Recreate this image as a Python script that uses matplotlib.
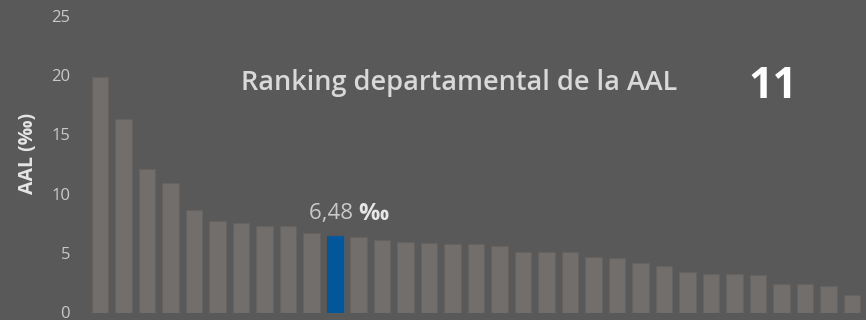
import matplotlib
matplotlib.use("Agg")
import matplotlib.pyplot as plt

# --- Datos: AAL por departamento (‰), ordenados de mayor a menor ---
aal_values = [19.8, 16.3, 12.1, 10.9, 8.6, 7.7, 7.55, 7.3, 7.3, 6.68,
              6.48, 6.38, 6.13, 5.98, 5.87, 5.73, 5.73, 5.59, 5.08, 5.08,
              5.07, 4.70, 4.56, 4.17, 3.89, 3.39, 3.28, 3.28, 3.14, 2.36,
              2.36, 2.22, 1.44]
highlight_rank = 11
highlight_label = "6,48"
y_ticks = [0, 5, 10, 15, 20, 25]
title_text = "Ranking departamental de la AAL"
ylabel_text = "AAL (‰)"

BG = "#595959"
BAR = "#726e6c"
BAR_EDGE = "#666260"
BLUE = "#00579a"
TICK = "#c9c9c9"

plt.rcParams["font.family"] = ["Open Sans", "DejaVu Sans"]

fig = plt.figure(figsize=(8.66, 3.2), dpi=100, facecolor=BG)
ax = fig.add_axes([88.25 / 866, 7.5 / 320, (863.75 - 88.25) / 866, (312.5 - 15.75) / 320])
ax.set_facecolor(BG)

x = list(range(len(aal_values)))
colors = [BLUE if i == highlight_rank - 1 else BAR for i in x]
edges = [BLUE if i == highlight_rank - 1 else BAR_EDGE for i in x]
ax.bar(x, aal_values, width=0.72, color=colors, edgecolor=edges, linewidth=0.8)

ax.set_xlim(-0.5, len(aal_values) - 0.5)
ax.set_ylim(0, 25)
ax.set_yticks(y_ticks)
ax.set_xticks([])
ax.tick_params(axis="y", length=0, pad=13, labelsize=12, labelcolor=TICK)
for s in ax.spines.values():
    s.set_visible(False)

ax.set_ylabel(ylabel_text, color="#e6e6e6", fontsize=14, fontweight="bold")
ax.yaxis.set_label_coords(-0.065, 0.535)

# etiqueta del valor resaltado
hi = highlight_rank - 1
ax.text(hi + 1.0, aal_values[hi] + 1.85, highlight_label + " ", ha="right", va="center",
        fontsize=16, color="#c9c9c9")
ax.text(hi + 1.0, aal_values[hi] + 1.85, "‰", ha="left", va="center",
        fontsize=17, fontweight="bold", color="#e6e6e6")

fig.text(459 / 866, 1 - 83 / 320, title_text, ha="center", va="center",
         fontsize=19.5, fontweight="semibold", color="#d9d9d9")
fig.text(773 / 866, 1 - 86 / 320, str(highlight_rank), ha="center", va="center",
         fontsize=31, fontweight="bold", color="white")

fig.savefig("out.png", dpi=100, facecolor=BG)
